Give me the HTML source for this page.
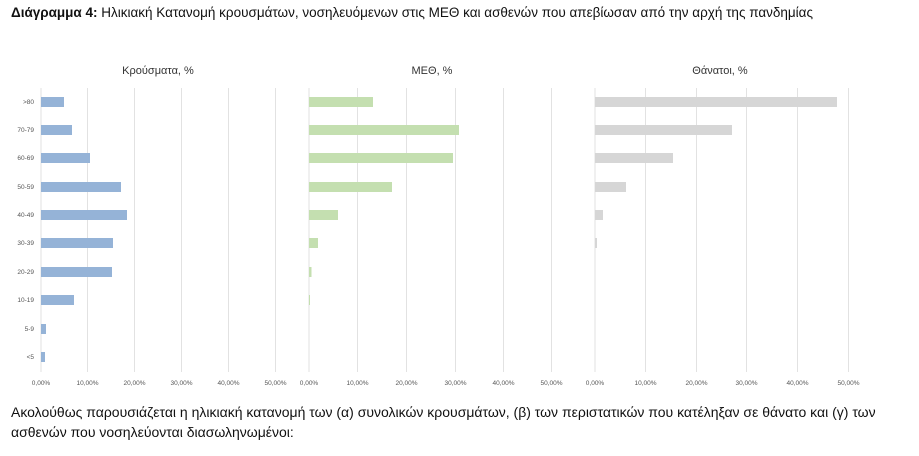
<!DOCTYPE html>
<html><head><meta charset="utf-8"><style>
body{margin:0;background:#fff;width:919px;height:456px;overflow:hidden;font-family:"Liberation Sans",sans-serif;}
.t{position:absolute;left:11px;font-size:13.5px;color:#111;white-space:nowrap;}
</style></head><body>
<div class="t" style="top:5px"><b>Διάγραμμα 4:</b> Ηλικιακή Κατανομή κρουσμάτων, νοσηλευόμενων στις ΜΕΘ και ασθενών που απεβίωσαν από την αρχή της πανδημίας</div>
<svg width="919" height="456" style="position:absolute;left:0;top:0" font-family="Liberation Sans, sans-serif">
<g stroke="#e2e2e2" stroke-width="1">
<line x1="41" y1="88" x2="41" y2="372"/><line x1="87.5" y1="88" x2="87.5" y2="372"/><line x1="134.5" y1="88" x2="134.5" y2="372"/><line x1="181.5" y1="88" x2="181.5" y2="372"/><line x1="228.5" y1="88" x2="228.5" y2="372"/><line x1="275.5" y1="88" x2="275.5" y2="372"/>
<line x1="309" y1="88" x2="309" y2="372"/><line x1="357.5" y1="88" x2="357.5" y2="372"/><line x1="406.5" y1="88" x2="406.5" y2="372"/><line x1="455.5" y1="88" x2="455.5" y2="372"/><line x1="503.5" y1="88" x2="503.5" y2="372"/><line x1="551.5" y1="88" x2="551.5" y2="372"/>
<line x1="595" y1="88" x2="595" y2="372"/><line x1="645.5" y1="88" x2="645.5" y2="372"/><line x1="696.5" y1="88" x2="696.5" y2="372"/><line x1="746.5" y1="88" x2="746.5" y2="372"/><line x1="797.5" y1="88" x2="797.5" y2="372"/><line x1="848.5" y1="88" x2="848.5" y2="372"/>
</g>
<g font-size="11" fill="#333" text-anchor="middle">
<text x="158" y="74">Κρούσματα, %</text><text x="432" y="74">ΜΕΘ, %</text><text x="720" y="74">Θάνατοι, %</text>
</g>
<g font-size="6.5" fill="#555" text-anchor="end">
<text x="34" y="104">&gt;80</text><text x="34" y="132">70-79</text><text x="34" y="160">60-69</text><text x="34" y="189">50-59</text><text x="34" y="217">40-49</text><text x="34" y="245">30-39</text><text x="34" y="274">20-29</text><text x="34" y="302">10-19</text><text x="34" y="331">5-9</text><text x="34" y="359">&lt;5</text>
</g>
<g font-size="6.5" fill="#555" text-anchor="middle">
<text x="41" y="385">0,00%</text><text x="87.5" y="385">10,00%</text><text x="134.5" y="385">20,00%</text><text x="181.5" y="385">30,00%</text><text x="228.5" y="385">40,00%</text><text x="275.5" y="385">50,00%</text>
<text x="309" y="385">0,00%</text><text x="357.5" y="385">10,00%</text><text x="406.5" y="385">20,00%</text><text x="455.5" y="385">30,00%</text><text x="503.5" y="385">40,00%</text><text x="551.5" y="385">50,00%</text>
<text x="595" y="385">0,00%</text><text x="645.5" y="385">10,00%</text><text x="696.5" y="385">20,00%</text><text x="746.5" y="385">30,00%</text><text x="797.5" y="385">40,00%</text><text x="848.5" y="385">50,00%</text>
</g>
<g fill="#95b3d7">
<rect x="41" y="97" width="23" height="10"/><rect x="41" y="125" width="31" height="10"/><rect x="41" y="153" width="49" height="10"/><rect x="41" y="182" width="80" height="10"/><rect x="41" y="210" width="86" height="10"/><rect x="41" y="238" width="72" height="10"/><rect x="41" y="267" width="71" height="10"/><rect x="41" y="295" width="33" height="10"/><rect x="41" y="324" width="5" height="10"/><rect x="41" y="352" width="4" height="10"/>
</g>
<g fill="#c4dfb0">
<rect x="309" y="97" width="64" height="10"/><rect x="309" y="125" width="150" height="10"/><rect x="309" y="153" width="144" height="10"/><rect x="309" y="182" width="83" height="10"/><rect x="309" y="210" width="29" height="10"/><rect x="309" y="238" width="9" height="10"/><rect x="309" y="267" width="2.5" height="10"/><rect x="309" y="295" width="1" height="10"/>
</g>
<g fill="#d6d6d6">
<rect x="595" y="97" width="242" height="10"/><rect x="595" y="125" width="137" height="10"/><rect x="595" y="153" width="78" height="10"/><rect x="595" y="182" width="31" height="10"/><rect x="595" y="210" width="8" height="10"/><rect x="595" y="238" width="2" height="10"/>
</g>
</svg>
<div class="t" style="top:404px;font-size:14px">Ακολούθως παρουσιάζεται η ηλικιακή κατανομή των (α) συνολικών κρουσμάτων, (β) των περιστατικών που κατέληξαν σε θάνατο και (γ) των</div>
<div class="t" style="top:424px;font-size:14px">ασθενών που νοσηλεύονται διασωληνωμένοι:</div>
</body></html>
